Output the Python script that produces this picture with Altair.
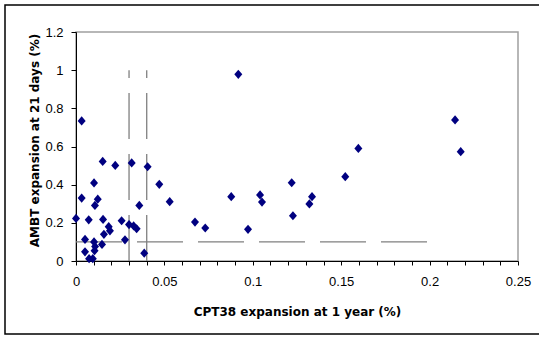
import altair as alt
import pandas as pd

# CPT38 expansion at 1 year (%) vs AMBT expansion at 21 days (%)
cpt38 = [0.0032, 0.0918, 0.0032, 0.0151, 0.0222, 0.0315, 0.0405, 0.0102, 0.0471, 0.0123,
         0.0107, 0.0358, 0.0530, 0.0878, 0.0000, 0.0072, 0.0153, 0.0258, 0.0185, 0.0192,
         0.0158, 0.0300, 0.0326, 0.0343, 0.0673, 0.0731, 0.0051, 0.0102, 0.0277, 0.0147,
         0.0108, 0.0105, 0.0051, 0.0386, 0.0074, 0.0095, 0.1597, 0.2176, 0.1041, 0.1052,
         0.1220, 0.1227, 0.1320, 0.1335, 0.1523, 0.0973, 0.2144]
ambt = [0.734, 0.978, 0.330, 0.522, 0.501, 0.514, 0.494, 0.409, 0.402, 0.324,
        0.291, 0.291, 0.311, 0.337, 0.223, 0.216, 0.218, 0.211, 0.180, 0.158,
        0.140, 0.191, 0.184, 0.169, 0.204, 0.173, 0.113, 0.100, 0.111, 0.087,
        0.076, 0.054, 0.048, 0.041, 0.012, 0.012, 0.590, 0.573, 0.346, 0.309,
        0.410, 0.237, 0.299, 0.337, 0.442, 0.166, 0.739]

# limit lines
vline_x = [0.03, 0.04]
vline_y0 = [0.0, 0.0]
vline_y1 = [1.0, 1.0]
hline_y = [0.1]
hline_x0 = [0.0]
hline_x1 = [0.2]

x_ticks = [0, 0.01, 0.02, 0.03, 0.04, 0.05, 0.06, 0.07, 0.08, 0.09, 0.1, 0.11, 0.12,
           0.13, 0.14, 0.15, 0.16, 0.17, 0.18, 0.19, 0.2, 0.21, 0.22, 0.23, 0.24, 0.25]
y_ticks = [0, 0.2, 0.4, 0.6, 0.8, 1.0, 1.2]

pts = pd.DataFrame({"x": cpt38, "y": ambt})
vdf = pd.DataFrame({"x": vline_x, "y0": vline_y0, "y1": vline_y1})
hdf = pd.DataFrame({"y": hline_y, "x0": hline_x0, "x1": hline_x1})

xscale = alt.Scale(domain=[0, 0.25], nice=False, zero=False)
yscale = alt.Scale(domain=[0, 1.2], nice=False, zero=False)

xaxis = alt.Axis(
    values=x_ticks,
    labelExpr="(round(datum.value*100) % 5 == 0) ? format(datum.value, '~g') : ''",
    title="CPT38 expansion at 1 year (%)",
    titleX=221, titleY=45, titleBaseline="top",
    tickSize=4, labelPadding=10, grid=False,
    labelOverlap=False, labelFlush=False, labelBound=False,
)
yaxis = alt.Axis(
    values=y_ticks, format="~g",
    title="AMBT expansion at 21 days (%)",
    titleX=-35, titleY=108, titleAngle=-90, titleBaseline="bottom",
    tickSize=5, labelPadding=8, grid=False,
    labelOverlap=False, labelFlush=False, labelBound=False,
)

line_style = dict(color="#808080", strokeWidth=1.3, strokeDash=[46, 15])

vlines = alt.Chart(vdf).mark_rule(**line_style).encode(
    x=alt.X("x:Q", scale=xscale, axis=xaxis),
    y=alt.Y("y0:Q", scale=yscale, axis=yaxis),
    y2="y1:Q",
)
hlines = alt.Chart(hdf).mark_rule(**line_style).encode(
    y=alt.Y("y:Q", scale=yscale, axis=yaxis),
    x=alt.X("x0:Q", scale=xscale, axis=xaxis),
    x2="x1:Q",
)
points = alt.Chart(pts).mark_point(shape="M0,-1.15L1,0L0,1.15L-1,0Z", filled=True, size=64,
                                   color="#000080", opacity=1).encode(
    x=alt.X("x:Q", scale=xscale, axis=xaxis),
    y=alt.Y("y:Q", scale=yscale, axis=yaxis),
)
frame = alt.Chart(alt.Data(values=[{"a": 1}])).mark_rect(
    fill=None, stroke="black", strokeWidth=1.5, clip=False
).encode(
    x=alt.value(-71), x2=alt.value(470), y=alt.value(-27), y2=alt.value(302)
)

chart = alt.layer(vlines, hlines, points, frame).properties(
    width=442, height=229,
    autosize=alt.AutoSizeParams(type="none"),
    padding={"left": 76, "top": 32, "right": 21, "bottom": 84},
    background="white",
).configure_view(
    stroke="#a0a0a0", strokeWidth=1.5
).configure_axis(
    domainColor="black", domainWidth=1, tickColor="black", tickWidth=1,
    labelFont="Liberation Sans", labelFontSize=13, labelColor="black",
    titleFont="DejaVu Sans", titleFontSize=12, titleFontWeight="bold", titleColor="black",
    labelOverlap=False,
)

chart.save("out.html", embed_options={"renderer": "svg", "actions": False})
